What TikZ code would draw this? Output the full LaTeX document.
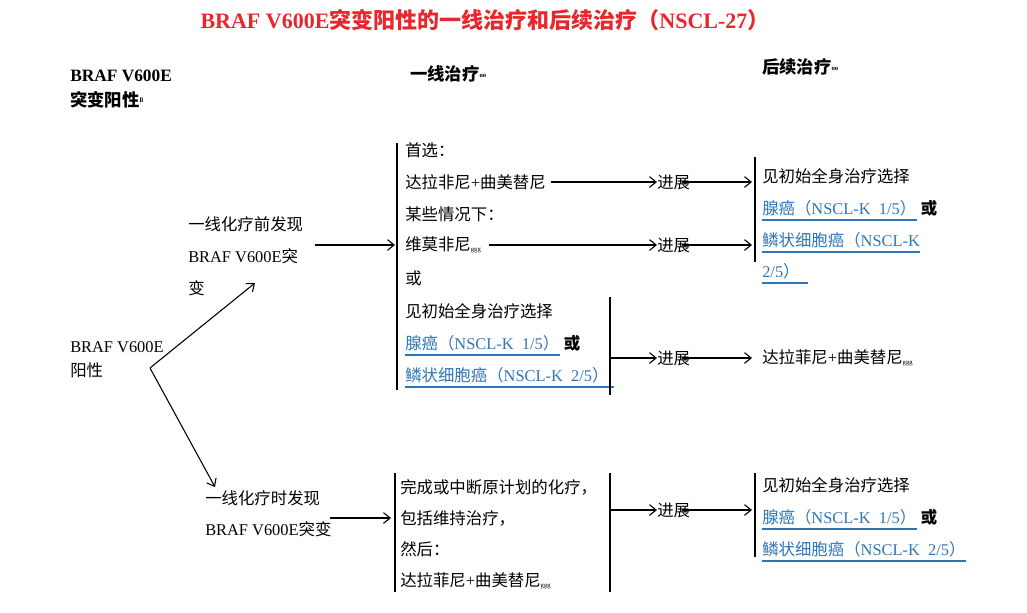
\documentclass[tikz,border=0pt]{standalone}
\usepackage{fontspec}
\setmainfont{Liberation Serif}
\newfontfamily\cjkf{Noto Sans CJK SC}
\newcommand\zh[1]{{\cjkf #1}}
\usetikzlibrary{arrows.meta}
\definecolor{lk}{HTML}{2E75B6}
\definecolor{tr}{HTML}{E8262B}
\begin{document}
\begin{tikzpicture}[x=0.75pt,y=-0.75pt,
  t/.style={anchor=west,inner sep=0pt,font=\fontsize{12.3}{14}\selectfont},
  hd/.style={anchor=west,inner sep=0pt,font=\fontsize{13}{15}\selectfont\bfseries},
  bl/.style={t,text=lk},
  ar/.style={-{Straight Barb[length=5pt,width=8pt]},line width=0.8pt},
  br/.style={line width=0.8pt},
  ul/.style={lk,line width=1.1pt}]
\useasboundingbox (0,0) rectangle (1027,613);
\node[anchor=center,inner sep=0pt,text=tr,font=\fontsize{16.5}{18}\selectfont\bfseries] (title) at (485,20) {BRAF V600E\zh{突变阳性的一线治疗和后续治疗（}NSCL-27\zh{）}};
\node[hd] (h1a) at (70,76) {BRAF V600E};
\node[hd] (h1b) at (70,100) {\zh{突变阳性}\raisebox{3pt}{\tiny ll}};
\node[hd] (h2) at (410,74) {\zh{一线治疗}\raisebox{2pt}{\tiny oo}};
\node[hd] (h3) at (762,67) {\zh{后续治疗}\raisebox{2pt}{\tiny oo}};
% left
\node[t] (l1) at (70,347) {BRAF V600E};
\node[t] (l2) at (70,370) {\zh{阳性}};
\coordinate (sp) at (150,368);
\coordinate (up) at (255,283);
\coordinate (dn) at (215,487);
\draw[ar] (sp) -- (up);
\draw[ar] (sp) -- (dn);
% upper branch
\node[t] (u1) at (188,224) {\zh{一线化疗前发现}};
\node[t] (u2) at (188,256) {BRAF V600E\zh{突}};
\node[t] (u3) at (188,288) {\zh{变}};
\coordinate (ua) at (315,245);
\coordinate (ub) at (395,245);
\draw[ar] (ua) -- (ub);
\coordinate (b1t) at (397,143); \coordinate (b1b) at (397,390);
\draw[br] (b1t) -- (b1b);
\node[t] (a1) at (405,150) {\zh{首选：}};
\node[t] (a2) at (405,182) {\zh{达拉非尼}+\zh{曲美替尼}};
\node[t] (a3) at (405,214) {\zh{某些情况下：}};
\node[t] (a4) at (405,245) {\zh{维莫非尼}\raisebox{-1pt}{\tiny ggg}};
\node[t] (a5) at (405,278) {\zh{或}};
\node[t] (a6) at (405,311) {\zh{见初始全身治疗选择}};
\node[bl] (a7) at (405,343) {\zh{腺癌（}NSCL-K\ \ 1/5\zh{）}};
\node[t,font=\fontsize{12.3}{14}\selectfont\bfseries] (a7b) at ([xshift=3pt]a7.east) {\zh{或}};
\node[bl] (a8) at (405,375) {\zh{鳞状细胞癌（}NSCL-K\ \ 2/5\zh{）}};
\draw[ul] ([yshift=-3pt]a7.south west) -- ([yshift=-3pt]a7.south east);
\draw[ul] ([yshift=-3pt]a8.south west) -- ([yshift=-3pt,xshift=4pt]a8.south east);
\coordinate (b2t) at (610,297); \coordinate (b2b) at (610,395);
\draw[br] (b2t) -- (b2b);
% progress arrows upper
\node[t] (p1) at (657,182) {\zh{进展}};
\node[t] (p2) at (657,245) {\zh{进展}};
\node[t] (p3) at (657,358) {\zh{进展}};
\coordinate (e1) at (752,182); \coordinate (e2) at (752,245); \coordinate (e3) at (752,358);
\draw[ar] (a2.east)++(5,0) -- (p1.west);
\draw[ar] (p1.west)++(25,0) -- (e1);
\draw[ar] (a4.east)++(8,0) -- (p2.west);
\draw[ar] (p2.west)++(25,0) -- (e2);
\draw[ar] (610,358) -- (p3.west);
\draw[ar] (p3.west)++(25,0) -- (e3);
\coordinate (b3t) at (755,157); \coordinate (b3b) at (755,262);
\draw[br] (b3t) -- (b3b);
\node[t] (r1) at (762,176) {\zh{见初始全身治疗选择}};
\node[bl] (r2) at (762,208) {\zh{腺癌（}NSCL-K\ \ 1/5\zh{）}};
\node[t,font=\fontsize{12.3}{14}\selectfont\bfseries] (r2b) at ([xshift=3pt]r2.east) {\zh{或}};
\node[bl] (r3) at (762,240) {\zh{鳞状细胞癌（}NSCL-K};
\node[bl] (r4) at (762,271) {2/5\zh{）}};
\draw[ul] ([yshift=-3pt]r2.south west) -- ([yshift=-3pt]r2.south east);
\draw[ul] ([yshift=-3pt]r3.south west) -- ([yshift=-3pt]r3.south east);
\draw[ul] ([yshift=-3pt]r4.south west) -- ([yshift=-3pt,xshift=6pt]r4.south east);
\node[t] (r5) at (762,358) {\zh{达拉菲尼}+\zh{曲美替尼}\raisebox{-1pt}{\tiny ggg}};
% lower branch
\node[t] (d1) at (205,498) {\zh{一线化疗时发现}};
\node[t] (d2) at (205,529) {BRAF V600E\zh{突变}};
\coordinate (da) at (330,518); \coordinate (db) at (391,518);
\draw[ar] (da) -- (db);
\coordinate (b4t) at (395,473); \coordinate (b4b) at (395,592);
\draw[br] (b4t) -- (b4b);
\node[t] (c1) at (400,487) {\zh{完成或中断原计划的化疗，}};
\node[t] (c2) at (400,518) {\zh{包括维持治疗，}};
\node[t] (c3) at (400,549) {\zh{然后：}};
\node[t] (c4) at (400,581) {\zh{达拉菲尼}+\zh{曲美替尼}\raisebox{-1pt}{\tiny ggg}};
\coordinate (b5t) at (610,473); \coordinate (b5b) at (610,592);
\draw[br] (b5t) -- (b5b);
\node[t] (p4) at (657,510) {\zh{进展}};
\coordinate (e4) at (752,510);
\draw[ar] (610,510) -- (p4.west);
\draw[ar] (p4.west)++(25,0) -- (e4);
\coordinate (b6t) at (755,473); \coordinate (b6b) at (755,557);
\draw[br] (b6t) -- (b6b);
\node[t] (s1) at (762,485) {\zh{见初始全身治疗选择}};
\node[bl] (s2) at (762,517) {\zh{腺癌（}NSCL-K\ \ 1/5\zh{）}};
\node[t,font=\fontsize{12.3}{14}\selectfont\bfseries] (s2b) at ([xshift=3pt]s2.east) {\zh{或}};
\node[bl] (s3) at (762,549) {\zh{鳞状细胞癌（}NSCL-K\ \ 2/5\zh{）}};
\draw[ul] ([yshift=-3pt]s2.south west) -- ([yshift=-3pt]s2.south east);
\draw[ul] ([yshift=-3pt]s3.south west) -- ([yshift=-3pt]s3.south east);
\end{tikzpicture}
\end{document}
